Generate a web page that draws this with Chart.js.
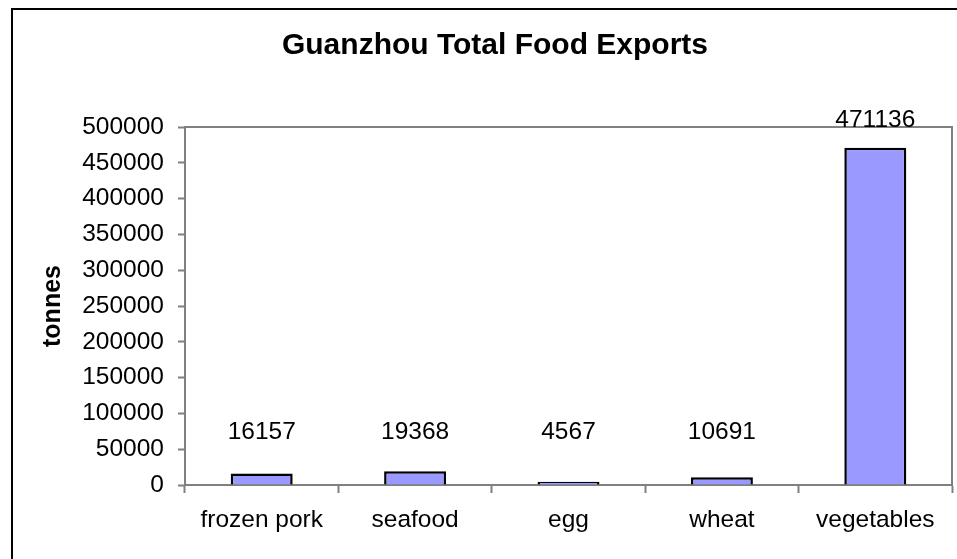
<!DOCTYPE html>
<html>
<head>
<meta charset="utf-8">
<script src="https://cdn.jsdelivr.net/npm/chart.js@4/dist/chart.umd.min.js"></script>
<style>
  html, body { margin: 0; padding: 0; background: #fff; }
  canvas { display: block; }
</style>
</head>
<body>
<canvas id="c" width="957" height="559"></canvas>
<script>
// Export volumes by food category (tonnes)
const categories = ['frozen pork', 'seafood', 'egg', 'wheat', 'vegetables'];
const exportTonnes = [16157, 19368, 4567, 10691, 471136];
const chartTitle = 'Guanzhou Total Food Exports';
const yAxisTitle = 'tonnes';
const yMin = 0, yMax = 500000, yStep = 50000;

const FONT = "'Liberation Sans', Arial, Helvetica, sans-serif";
const AXIS_GREY = '#808080';

Chart.defaults.font.family = FONT;
Chart.defaults.color = '#000';

// Outer frame, plot frame, title and value labels
const decorations = {
  id: 'decorations',
  beforeDraw(chart) {
    const ctx = chart.ctx;
    ctx.save();
    ctx.fillStyle = '#fff';
    ctx.fillRect(0, 0, chart.width, chart.height);
    ctx.strokeStyle = '#000';
    ctx.lineWidth = 2;
    ctx.strokeRect(12, 9, 2000, 2000);
    ctx.restore();
  },
  afterDatasetsDraw(chart) {
    const ctx = chart.ctx;
    const a = chart.chartArea;
    ctx.save();
    ctx.strokeStyle = AXIS_GREY;
    ctx.lineWidth = 2;
    ctx.beginPath();
    ctx.moveTo(a.left, a.top);
    ctx.lineTo(a.right, a.top);
    ctx.lineTo(a.right, a.bottom);
    ctx.stroke();

    // title
    ctx.fillStyle = '#000';
    ctx.textAlign = 'center';
    ctx.textBaseline = 'middle';
    ctx.font = 'bold 30px ' + FONT;
    ctx.fillText(chartTitle, 495, 46);

    // value labels above each bar
    ctx.font = '24.5px ' + FONT;
    const meta = chart.getDatasetMeta(0);
    meta.data.forEach((bar, i) => {
      const p = bar.getProps(['x', 'y', 'base'], true);
      const y = Math.min(p.y - 27, p.base - 52);
      ctx.fillText(String(chart.data.datasets[0].data[i]), p.x, y);
    });
    ctx.restore();
  }
};

new Chart(document.getElementById('c'), {
  type: 'bar',
  data: {
    labels: categories,
    datasets: [{
      data: exportTonnes,
      backgroundColor: '#9999FF',
      borderColor: '#000',
      borderWidth: 2.5,
      categoryPercentage: 1,
      barPercentage: 0.404
    }]
  },
  options: {
    responsive: false,
    animation: false,
    layout: { padding: { left: 0, right: 5, top: 127, bottom: 0 } },
    plugins: {
      legend: { display: false },
      title: { display: false },
      tooltip: { enabled: false }
    },
    scales: {
      x: {
        offset: true,
        afterFit(scale) { scale.height = 74; },
        grid: {
          offset: true,
          drawOnChartArea: false,
          drawTicks: true,
          tickLength: 8,
          tickWidth: 2,
          tickColor: AXIS_GREY
        },
        border: { display: true, color: AXIS_GREY, width: 2 },
        ticks: {
          padding: 13,
          maxRotation: 0,
          autoSkip: false,
          color: '#000',
          font: { size: 24.5 }
        }
      },
      y: {
        min: yMin,
        max: yMax,
        afterFit(scale) { scale.width = 185; },
        grid: {
          drawOnChartArea: false,
          drawTicks: true,
          tickLength: 7,
          tickWidth: 2,
          tickColor: AXIS_GREY
        },
        border: { display: true, color: AXIS_GREY, width: 2 },
        ticks: {
          stepSize: yStep,
          padding: 14,
          color: '#000',
          font: { size: 24.5 },
          callback: (v) => String(v)
        },
        title: {
          display: true,
          text: yAxisTitle,
          color: '#000',
          font: { size: 25, weight: 'bold' },
          padding: { top: 38, bottom: 0 }
        }
      }
    }
  },
  plugins: [decorations]
});
</script>
</body>
</html>
